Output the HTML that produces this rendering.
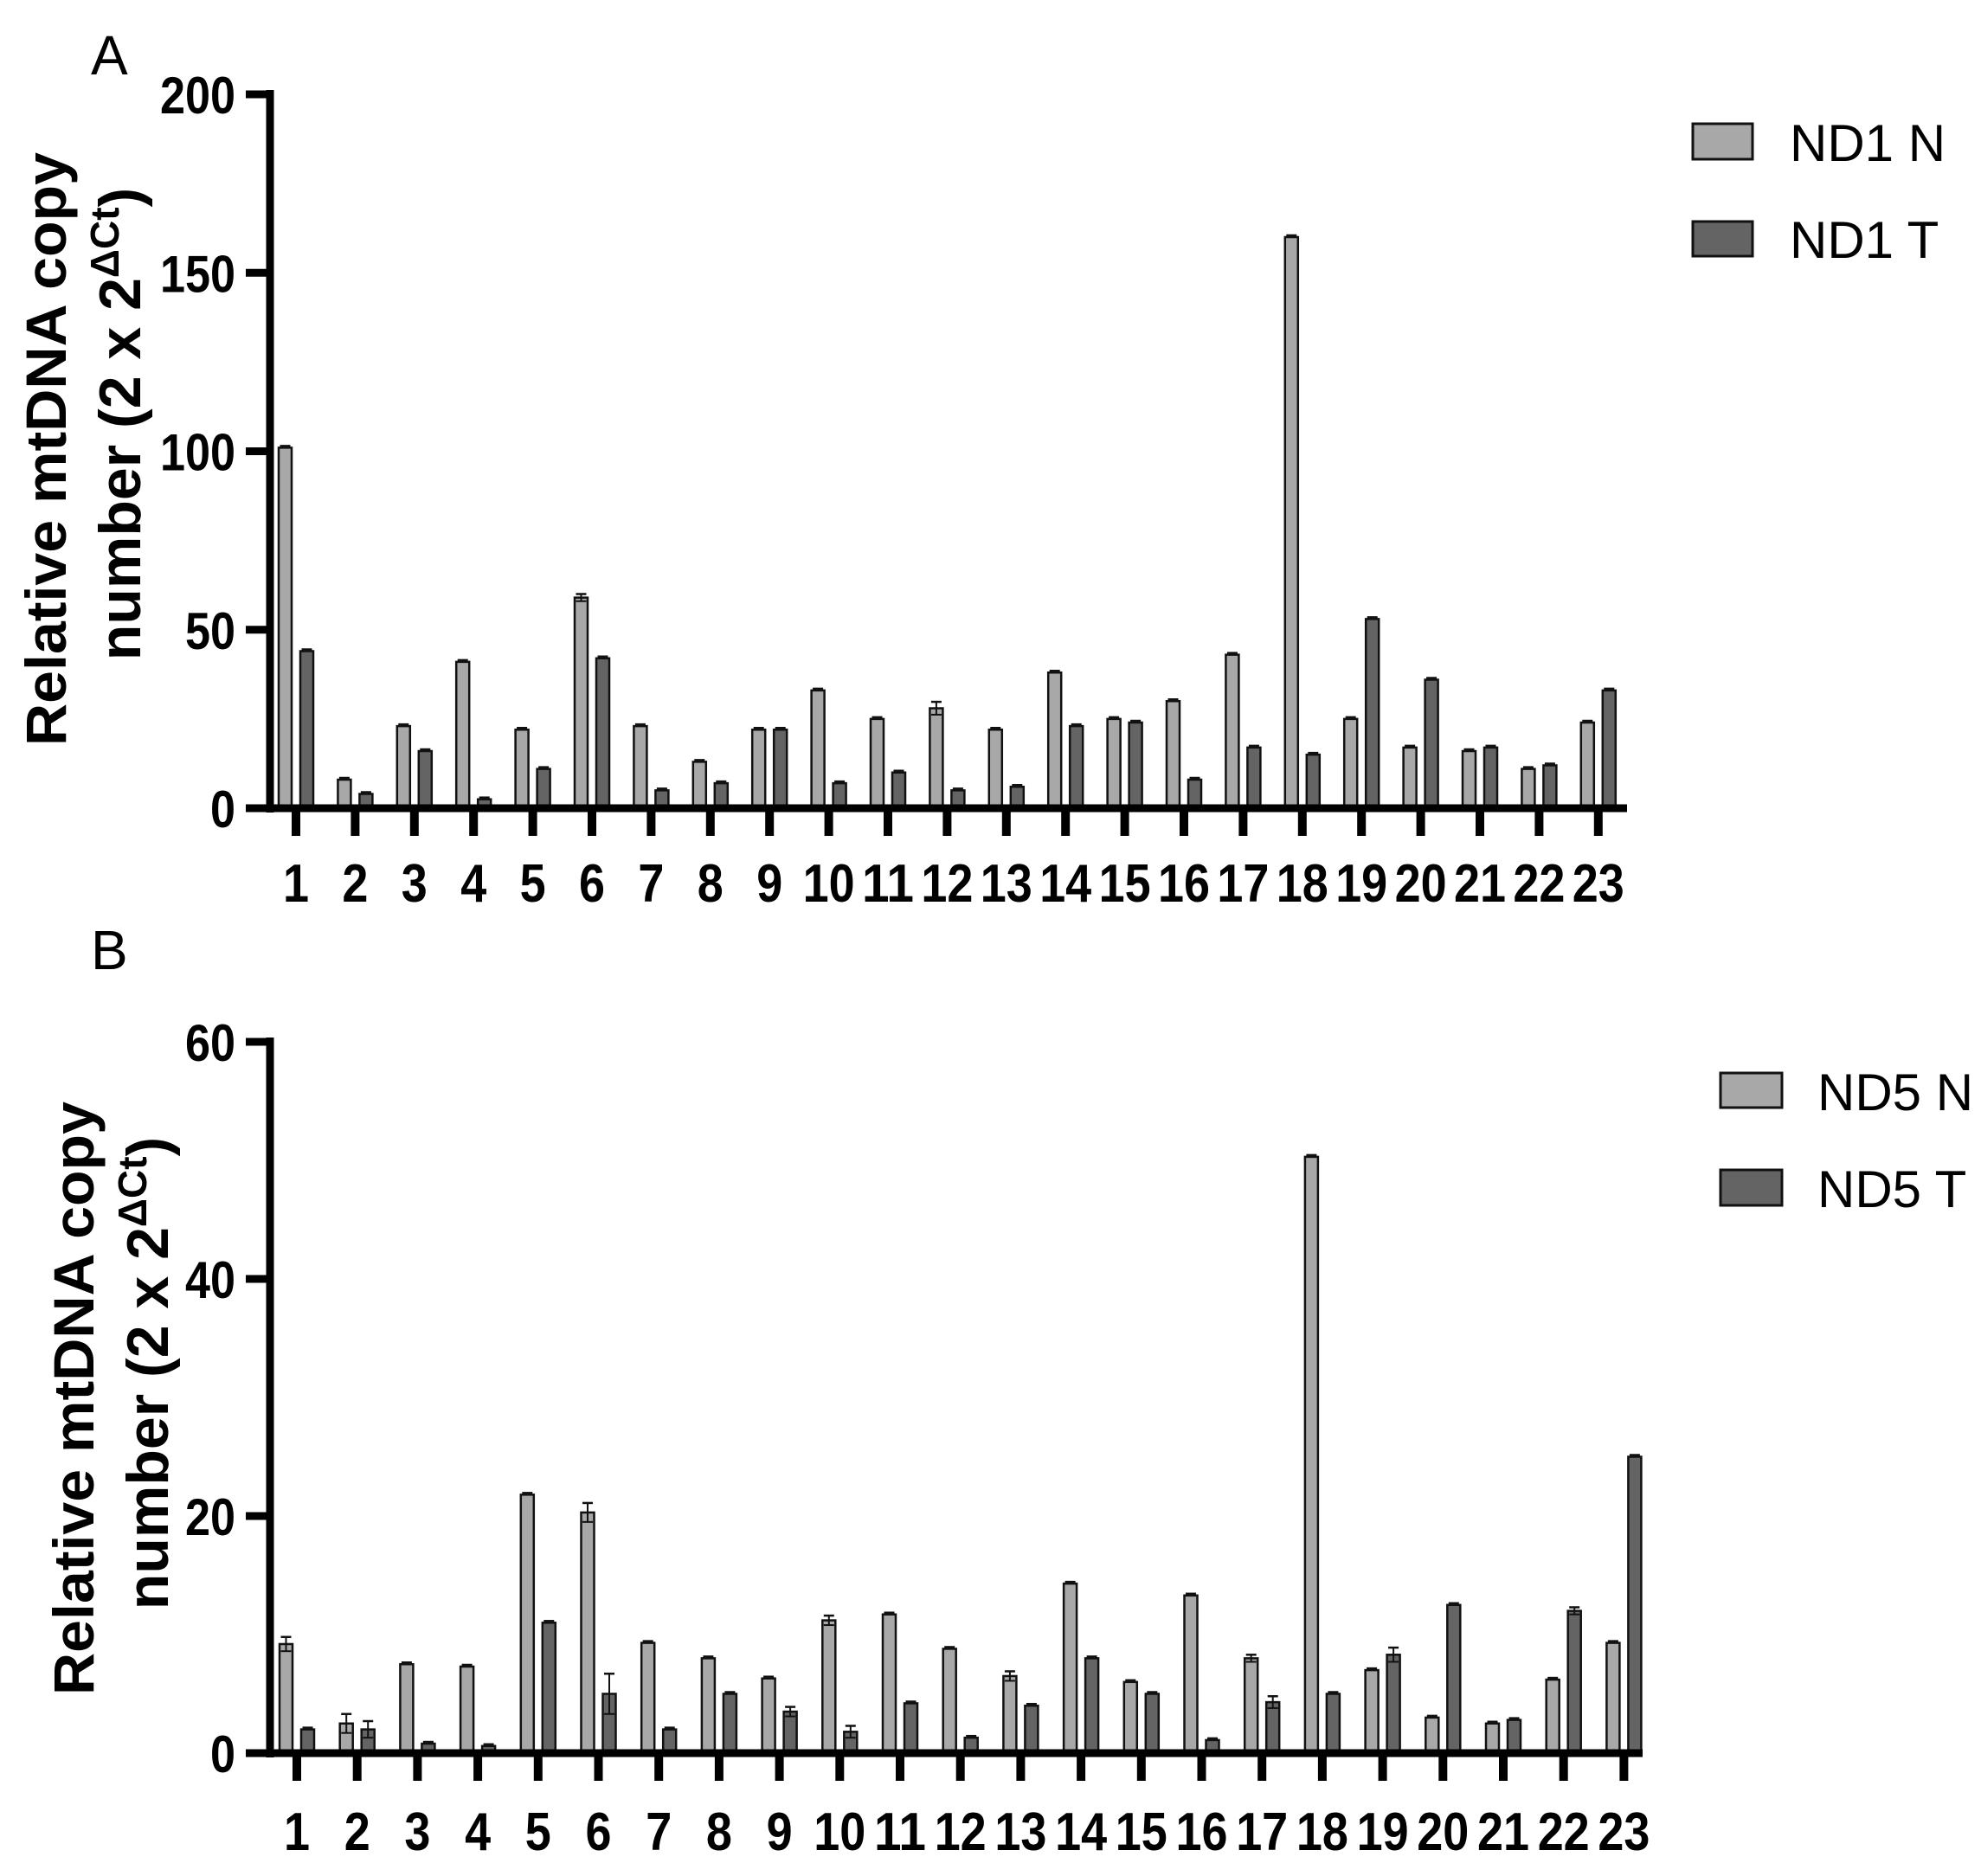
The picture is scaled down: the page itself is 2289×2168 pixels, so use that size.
<!DOCTYPE html>
<html><head><meta charset="utf-8"><style>
body{margin:0;background:#fff}
svg{display:block}
text{font-family:"Liberation Sans",Arial,sans-serif}
</style></head><body>
<svg id="s" width="2289" height="2168" xmlns="http://www.w3.org/2000/svg">
<text x="105" y="86" font-size="64">A</text>
<text x="105" y="1120" font-size="64">B</text>
<text transform="translate(76,519) rotate(-90)" text-anchor="middle" font-size="66" font-weight="bold" textLength="686" lengthAdjust="spacingAndGlyphs">Relative mtDNA copy</text>
<text transform="translate(162,490) rotate(-90)" text-anchor="middle" font-size="68" font-weight="bold">number (2 x 2<tspan font-size="46" dy="-25">ΔCt</tspan><tspan dy="25">)</tspan></text>
<text transform="translate(108,1616) rotate(-90)" text-anchor="middle" font-size="66" font-weight="bold" textLength="686" lengthAdjust="spacingAndGlyphs">Relative mtDNA copy</text>
<text transform="translate(194,1587) rotate(-90)" text-anchor="middle" font-size="68" font-weight="bold">number (2 x 2<tspan font-size="46" dy="-25">ΔCt</tspan><tspan dy="25">)</tspan></text>
<rect x="1956" y="143" width="69" height="41" fill="#a8a8a8" stroke="#111" stroke-width="3"/>
<rect x="1956" y="256" width="69" height="40" fill="#646464" stroke="#111" stroke-width="3"/>
<text x="2068" y="186" font-size="60">ND1 N</text>
<text x="2068" y="298" font-size="60">ND1 T</text>
<rect x="1988" y="1240" width="71" height="40" fill="#a8a8a8" stroke="#111" stroke-width="3"/>
<rect x="1988" y="1352" width="71" height="41" fill="#646464" stroke="#111" stroke-width="3"/>
<text x="2100" y="1283" font-size="60">ND5 N</text>
<text x="2100" y="1395" font-size="60">ND5 T</text>
</svg>
<script>
var s=document.getElementById('s'),h='';
function panel(ax,y0,ytop,vmax,ticks,t1,sp,xend,N,T,lblY,EN,ET){
 var sc=(y0-ytop)/vmax;
 for(var i=0;i<23;i++){
  var t=t1+i*sp;
  [[N[i],t-20,'#a8a8a8',EN[i]||0],[T[i],t+5,'#646464',ET[i]||0]].forEach(function(b){
   var hh=b[0]*sc, e=b[3]*sc, cx=b[1]+7.5;
   h+='<rect x="'+b[1]+'" y="'+(y0-hh)+'" width="15" height="'+hh+'" fill="'+b[2]+'" stroke="#111" stroke-width="2.5"/>';
   var top=y0-hh-Math.max(e,2);
   if(e>0){h+='<line x1="'+cx+'" x2="'+cx+'" y1="'+(y0-hh+e)+'" y2="'+top+'" stroke="#111" stroke-width="2"/>';
    h+='<line x1="'+(cx-6)+'" x2="'+(cx+6)+'" y1="'+(y0-hh+e)+'" y2="'+(y0-hh+e)+'" stroke="#111" stroke-width="2"/>';}
   h+='<line x1="'+(cx-6)+'" x2="'+(cx+6)+'" y1="'+top+'" y2="'+top+'" stroke="#111" stroke-width="2.5"/>';
  });
  h+='<line x1="'+t+'" x2="'+t+'" y1="'+y0+'" y2="'+(y0+32)+'" stroke="#000" stroke-width="10"/>';
  h+='<text x="'+t+'" y="'+lblY+'" text-anchor="middle" font-size="62" font-weight="bold" textLength="'+(i<9?30:60)+'" lengthAdjust="spacingAndGlyphs">'+(i+1)+'</text>';
 }
 h+='<line x1="'+ax+'" x2="'+ax+'" y1="'+(ytop-5)+'" y2="'+(y0+5)+'" stroke="#000" stroke-width="9"/>';
 h+='<line x1="'+(ax-28)+'" x2="'+xend+'" y1="'+y0+'" y2="'+y0+'" stroke="#000" stroke-width="9"/>';
 ticks.forEach(function(v){
  var y=y0-v*sc, L=String(v).length;
  h+='<line x1="'+(ax-28)+'" x2="'+ax+'" y1="'+y+'" y2="'+y+'" stroke="#000" stroke-width="9"/>';
  h+='<text x="272" y="'+(y+22)+'" text-anchor="end" font-size="60" font-weight="bold" textLength="'+(L*29)+'" lengthAdjust="spacingAndGlyphs">'+v+'</text>';
 });
}
panel(312,934,109,200,[0,50,100,150,200],342,68.4,1880,
[101,8,23,41,22,59,23,13,22,33,25,28,22,38,25,30,43,160,25,17,16,11,24],
[44,4,16,2.5,11,42,5,7,22,7,10,5,6,23,24,8,17,15,53,36,17,12,33],1042,
{5:1,11:1.8},{});
panel(312,2026,1204,60,[0,20,40,60],343,69.7,1898,
[9.2,2.5,7.5,7.3,21.8,20.3,9.3,8,6.3,11.2,11.7,8.8,6.5,14.3,6,13.3,8,50.3,7,3,2.5,6.2,9.3],
[2,2,0.8,0.6,11,5,2,5,3.5,1.8,4.2,1.3,4,8,5,1.1,4.3,5,8.3,12.5,2.8,12,25],2138,
{0:0.6,1:0.8,5:0.8,9:0.4,12:0.4,16:0.3},{1:0.7,5:1.7,8:0.4,9:0.5,16:0.5,18:0.6,21:0.3});
s.insertAdjacentHTML('beforeend',h);
</script>
</body></html>
